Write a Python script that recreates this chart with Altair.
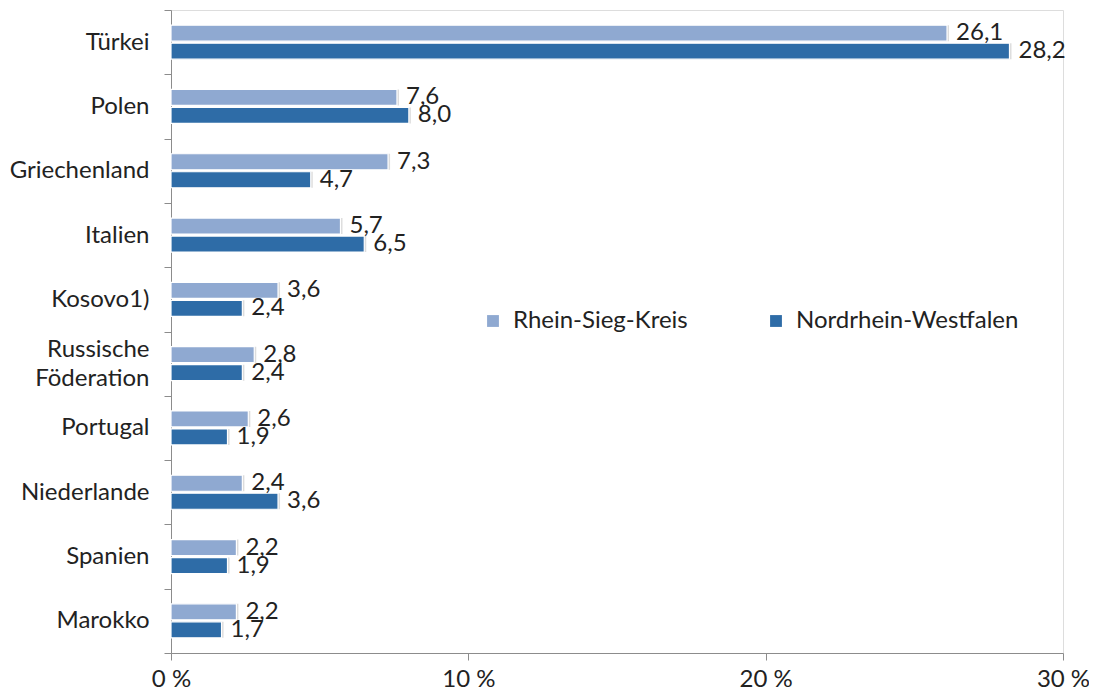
import altair as alt
import pandas as pd

countries = ["Türkei", "Polen", "Griechenland", "Italien", "Kosovo1)",
             "Russische Föderation", "Portugal", "Niederlande", "Spanien", "Marokko"]
rhein_sieg = [26.1, 7.6, 7.3, 5.7, 3.6, 2.8, 2.6, 2.4, 2.2, 2.2]
nrw = [28.2, 8.0, 4.7, 6.5, 2.4, 2.4, 1.9, 3.6, 1.9, 1.7]
series = ["Rhein-Sieg-Kreis", "Nordrhein-Westfalen"]
colors = ["#8FA9D1", "#2E6CA7"]
x_ticks = [0, 10, 20, 30]

rows = []
for c, a, b in zip(countries, rhein_sieg, nrw):
    rows.append({"land": c, "serie": series[0], "wert": a})
    rows.append({"land": c, "serie": series[1], "wert": b})
df = pd.DataFrame(rows)

FONT = "Lato"
TXT = "#222222"
FS = 24

y_enc = alt.Y("land:N", sort=countries, title=None,
              scale=alt.Scale(paddingInner=0, paddingOuter=0),
              axis=alt.Axis(tickBand="extent", labelFontSize=FS, labelFont=FONT,
                            labelColor=TXT, tickSize=7, labelPadding=15,
                            domainColor="#8c8c8c", tickColor="#8c8c8c",
                            labelBaseline="middle", labelLineHeight=29,
                            labelOffset={"condition": {"test": "datum.value == 'Russische Föderation'", "value": -14}, "value": 0},
                            labelExpr="datum.label == 'Russische Föderation' ? ['Russische\u00a0', 'Föderation'] : datum.label"))
yoff = alt.YOffset("serie:N", sort=series,
                   scale=alt.Scale(paddingInner=0.11, paddingOuter=0.84))
x_enc = alt.X("wert:Q", title=None,
              scale=alt.Scale(domain=[0, 30], nice=False),
              axis=alt.Axis(values=x_ticks, grid=False, labelFontSize=FS, labelFont=FONT,
                            labelColor=TXT, tickSize=7, labelPadding=26,
                            labelBaseline="alphabetic", labelFlush=False,
                            domainColor="#8c8c8c", tickColor="#8c8c8c",
                            labelExpr="format(datum.value, 'd') + ' %'"))

base = alt.Chart(df).encode(y=y_enc, yOffset=yoff)

shadow = base.mark_bar(color="#9a9a9a", opacity=0.35, xOffset=2, yOffset=2).encode(x=x_enc)

bars = base.mark_bar(stroke="white", strokeWidth=1.2).encode(
    x=x_enc,
    color=alt.Color("serie:N", sort=series, title=None,
                    scale=alt.Scale(domain=series, range=colors),
                    legend=alt.Legend(orient="none", legendX=310, legendY=299,
                                      direction="horizontal", columns=2,
                                      columnPadding=76, symbolType="square",
                                      symbolSize=140, symbolStrokeWidth=0,
                                      labelFont=FONT, labelFontSize=FS,
                                      labelColor=TXT, labelOffset=8,
                                      labelLimit=400)),
)

labels = base.mark_text(align="left", baseline="middle", dx=9, font=FONT,
                        fontSize=FS, color=TXT).encode(
    x=alt.X("wert:Q"),
    text=alt.Text("lbl:N"),
).transform_calculate(lbl="replace(format(datum.wert, '.1f'), '.', ',')")

chart = alt.layer(shadow, bars, labels).properties(
    width=892, height=643,
    autosize=alt.AutoSizeParams(type="none"),
    padding={"left": 163, "top": 2, "right": 26, "bottom": 37},
).configure_view(stroke=None).configure(background="white")

chart.save("out.html", embed_options={"renderer": "svg", "actions": False})
